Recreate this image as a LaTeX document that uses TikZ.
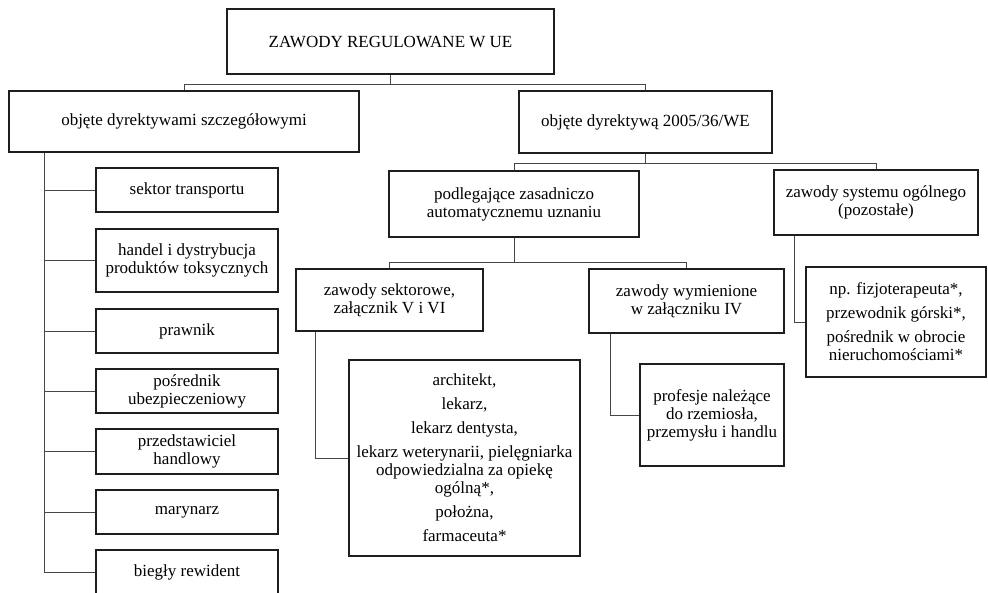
\documentclass[tikz,border=0pt]{standalone}
\usepackage{fontspec}
\setmainfont{Liberation Serif}
\usepackage{tikz}
\usetikzlibrary{positioning, calc}
\definecolor{boxline}{RGB}{30, 30, 30}
\definecolor{linkline}{RGB}{70, 70, 70}

\begin{document}
\begin{tikzpicture}[
    x=1pt, y=-1pt,
    font=\fontsize{17}{18}\selectfont,
    block/.style={rectangle, draw=boxline, line width=2pt, align=center, inner sep=0pt},
    link/.style={draw=linkline, line width=1pt}
]
\useasboundingbox (0,0) rectangle (988,592);

\node[block, minimum width=327pt, minimum height=65pt] (top) at (390.5,41.5) {ZAWODY REGULOWANE W UE};
\node[block, minimum width=350pt, minimum height=61pt] (spec) at (184,121.5) {objęte dyrektywami szczegółowymi};
\node[block, minimum width=253pt, minimum height=62pt] (dir) at (645.5,122) {objęte dyrektywą 2005/36/WE};

\node[block, minimum width=182pt, minimum height=44pt] (trans) at (187,190) {sektor transportu};
\node[block, minimum width=182pt, minimum height=63pt] (toks) at (187,260.5) {handel i dystrybucja\\ produktów toksycznych};
\node[block, minimum width=182pt, minimum height=44pt] (prawnik) at (187,331) {prawnik};
\node[block, minimum width=182pt, minimum height=44pt] (posr) at (187,391) {pośrednik\\ ubezpieczeniowy};
\node[block, minimum width=182pt, minimum height=45pt] (przed) at (187,451.5) {przedstawiciel\\ handlowy};
\node[block, minimum width=182pt, minimum height=44pt] (maryn) at (187,512) {marynarz};
\node[block, minimum width=182pt, minimum height=44pt] (biegly) at (187,572) {biegły rewident};

\node[block, minimum width=250pt, minimum height=66pt] (auto) at (514,204) {podlegające zasadniczo\\ automatycznemu uznaniu};
\node[block, minimum width=204pt, minimum height=65pt] (ogolny) at (876,202.5) {zawody systemu ogólnego\\ (pozostałe)};
\node[block, minimum width=187pt, minimum height=62pt] (sektor) at (389.5,300) {zawody sektorowe,\\ załącznik V i VI};
\node[block, minimum width=195pt, minimum height=64pt] (wymien) at (686.5,301) {zawody wymienione\\ w załączniku IV};

\node[block, minimum width=231pt, minimum height=196pt] (lista) at (464.5,458) {architekt,\\[6pt] lekarz,\\[6pt] lekarz dentysta,\\[6pt] lekarz weterynarii, pielęgniarka\\ odpowiedzialna za opiekę\\ ogólną*,\\[6pt] położna,\\[6pt] farmaceuta*};
\node[block, minimum width=144pt, minimum height=102pt] (rzemiosla) at (712,415) {profesje należące\\ do rzemiosła,\\ przemysłu i handlu};
\node[block, minimum width=180pt, minimum height=110pt] (fizjo) at (896,322) {np. fizjoterapeuta*,\\[6pt] przewodnik górski*,\\[6pt] pośrednik w obrocie\\ nieruchomościami*};

\draw[link] (top.south) -- ++(0,9) -| (spec.north);
\draw[link] (top.south) -- ++(0,9) -| (dir.north);

\foreach \n in {trans, toks, prawnik, posr, przed, maryn, biegly}
    \draw[link] ([xshift=36pt]spec.south west) |- (\n.west);

\draw[link] (dir.south) -- ++(0,9) -| (auto.north);
\draw[link] (dir.south) -- ++(0,9) -| (ogolny.north);

\draw[link] (auto.south) -- ++(0,24) -| (sektor.north);
\draw[link] (auto.south) -- ++(0,24) -| (wymien.north);

\draw[link] ([xshift=20pt]sektor.south west) |- (lista.west);
\draw[link] ([xshift=22pt]wymien.south west) |- (rzemiosla.west);
\draw[link] ([xshift=21pt]ogolny.south west) |- (fizjo.west);

\end{tikzpicture}
\end{document}
